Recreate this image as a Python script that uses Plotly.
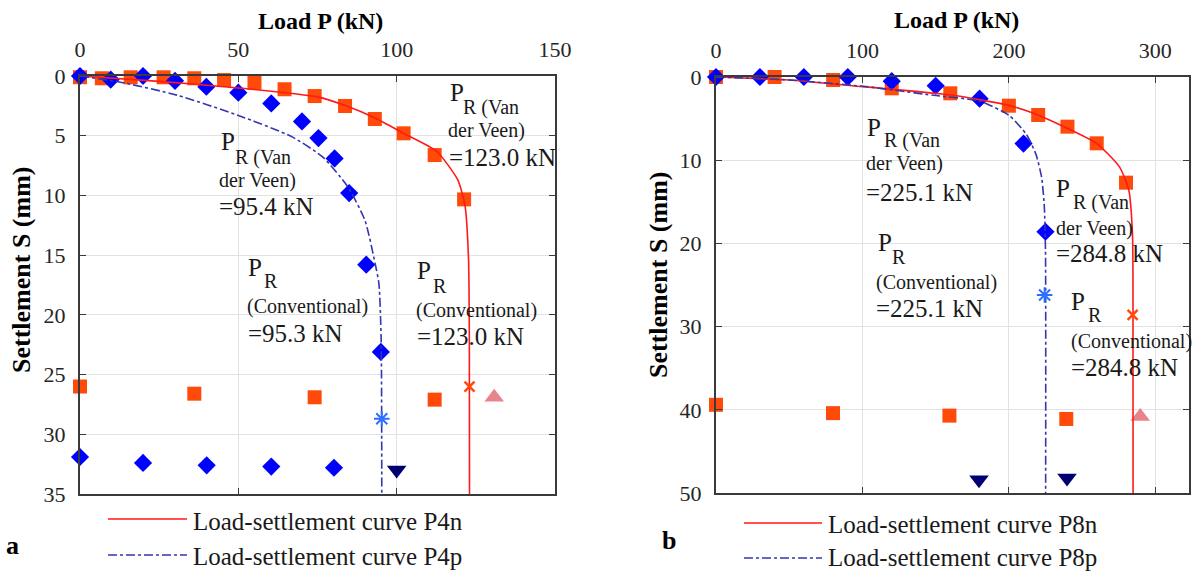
import plotly.graph_objects as go

W, H = 1192, 573
SERIF = "Liberation Serif, Times New Roman, Times, DejaVu Serif, serif"

# ---------------- Panel a data ----------------
a_sq_P = [0, 6.9, 16.0, 26.4, 36.1, 45.5, 55.1, 64.6, 74.1, 83.7, 93.1, 102.2, 112.0, 121.3]
a_sq_S = [0.1, 0.19, 0.11, 0.11, 0.19, 0.34, 0.56, 1.11, 1.68, 2.51, 3.6, 4.8, 6.62, 10.33]
a_di_P = [0, 9.7, 19.9, 30.0, 39.9, 50.0, 60.4, 70.1, 75.3, 80.4, 85.0, 90.4, 95.0]
a_di_S = [0, 0.3, 0.0, 0.4, 0.9, 1.4, 2.3, 3.8, 5.2, 6.9, 9.8, 15.8, 23.1]
a_n_P = [0, 25, 50, 75, 84, 93, 102.2, 112.6, 119.3, 121.6, 122.7, 122.95, 123.0]
a_n_S = [0, 0.45, 1.0, 1.75, 2.5, 3.5, 4.8, 6.3, 8.7, 10.9, 15.4, 22, 35]
a_p_P = [0, 12.4, 30.6, 50, 67, 76.7, 84.6, 90, 93.2, 94.4, 95.1, 95.3]
a_p_S = [0, 0.5, 1.6, 3.3, 5.1, 6.8, 9.3, 12.1, 15.7, 17.4, 22, 35]
a_row_sq_P = [0, 36.1, 74.1, 112.0]
a_row_sq_S = [26.0, 26.6, 26.9, 27.1]
a_row_di_P = [0, 19.9, 40.0, 60.4, 80.2]
a_row_di_S = [31.9, 32.4, 32.6, 32.7, 32.8]
a_x_P, a_x_S = [123.0], [26.0]
a_ast_P, a_ast_S = [95.3], [28.7]
a_tu_P, a_tu_S = [130.8], [26.9]
a_td_P, a_td_S = [100.0], [33.0]
a_xticks = [0, 50, 100, 150]
a_yticks = [0, 5, 10, 15, 20, 25, 30, 35]

# ---------------- Panel b data ----------------
b_sq_P = [0, 40, 80, 120, 160, 200, 220, 240, 260, 280]
b_sq_S = [0, 0, 0.36, 1.36, 1.96, 3.45, 4.57, 5.97, 7.97, 12.7]
b_di_P = [0, 30, 60, 90, 120, 150, 180, 210, 225]
b_di_S = [0, 0, 0, 0, 0.5, 1.05, 2.6, 8.0, 18.6]
b_n_P = [0, 50, 100, 160.5, 199, 215, 239, 260, 275.5, 281.9, 284.4, 284.75, 284.8]
b_n_S = [0, 0.36, 1.16, 2.16, 3.37, 4.25, 6.1, 8.0, 10.8, 13.6, 18.8, 25, 50]
b_p_P = [0, 50, 102, 148.5, 180, 200, 212, 218.5, 222.4, 224.2, 225.0, 225.1]
b_p_S = [0, 0.36, 1.15, 2.2, 2.9, 4.6, 6.9, 9.3, 12.1, 15.6, 21, 50]
b_row_sq_P = [0, 79.9, 159.4, 239.2]
b_row_sq_S = [39.4, 40.4, 40.7, 41.1]
b_x_P, b_x_S = [284.5], [28.6]
b_ast_P, b_ast_S = [224.4], [26.2]
b_tu_P, b_tu_S = [289.7], [40.8]
b_td_P = [179.6, 239.7]
b_td_S = [48.4, 48.2]
b_xticks = [0, 100, 200, 300]
b_yticks = [0, 10, 20, 30, 40, 50]

SQ_C = "#ff4a0a"
DI_C = "#0000ff"
RED_LINE = "#ff1a1a"
BLUE_LINE = "#3535b0"
TU_C = "#e8848c"
TD_C = "#000070"
AST_C = "#2f6fff"


def X(px):
    return px / W


def Y(py):
    return 1 - py / H


fig = go.Figure()


def add_panel(xa, ya, sq_P, sq_S, di_P, di_S, n_P, n_S, p_P, p_S,
              row_sq_P, row_sq_S, row_di_P, row_di_S,
              x_P, x_S, ast_P, ast_S, tu_P, tu_S, td_P, td_S):
    mk = dict(xaxis=xa, yaxis=ya, mode="markers", showlegend=False, cliponaxis=False)
    fig.add_trace(go.Scatter(x=sq_P + row_sq_P, y=sq_S + row_sq_S,
                             marker=dict(symbol="square", size=14, color=SQ_C), **mk))
    fig.add_trace(go.Scatter(x=di_P + row_di_P, y=di_S + row_di_S,
                             marker=dict(symbol="diamond", size=14, color=DI_C), **mk))
    fig.add_trace(go.Scatter(x=tu_P, y=tu_S,
                             marker=dict(symbol="triangle-up", size=17, color=TU_C), **mk))
    fig.add_trace(go.Scatter(x=td_P, y=td_S,
                             marker=dict(symbol="triangle-down", size=17, color=TD_C), **mk))
    fig.add_trace(go.Scatter(x=n_P, y=n_S, xaxis=xa, yaxis=ya, mode="lines", showlegend=False,
                             line=dict(color=RED_LINE, width=1.6, shape="spline", smoothing=0.6)))
    fig.add_trace(go.Scatter(x=p_P, y=p_S, xaxis=xa, yaxis=ya, mode="lines", showlegend=False,
                             line=dict(color=BLUE_LINE, width=1.6, dash="dashdot",
                                       shape="spline", smoothing=0.6)))
    fig.add_trace(go.Scatter(x=ast_P, y=ast_S,
                             marker=dict(symbol="asterisk-open", size=13, color=AST_C,
                                         line=dict(color=AST_C, width=2)), **mk))
    fig.add_trace(go.Scatter(x=x_P, y=x_S,
                             marker=dict(symbol="x-thin-open", size=10, color=SQ_C,
                                         line=dict(color=SQ_C, width=2.5)), **mk))


add_panel("x", "y", a_sq_P, a_sq_S, a_di_P, a_di_S, a_n_P, a_n_S, a_p_P, a_p_S,
          a_row_sq_P, a_row_sq_S, a_row_di_P, a_row_di_S,
          a_x_P, a_x_S, a_ast_P, a_ast_S, a_tu_P, a_tu_S, a_td_P, a_td_S)
add_panel("x2", "y2", b_sq_P, b_sq_S, b_di_P, b_di_S, b_n_P, b_n_S, b_p_P, b_p_S,
          b_row_sq_P, b_row_sq_S, [], [],
          b_x_P, b_x_S, b_ast_P, b_ast_S, b_tu_P, b_tu_S, b_td_P, b_td_S)

tickfont = dict(family=SERIF, size=22, color="#262626")
common = dict(showgrid=True, gridcolor="#e2e2e2", gridwidth=1, showline=True, mirror="ticks",
              linecolor="#3a3a3a", linewidth=2, ticks="inside", ticklen=6, tickcolor="#3a3a3a",
              tickfont=tickfont, zeroline=False, ticklabelstandoff=8, automargin=False)

fig.update_layout(
    width=W, height=H, autosize=False,
    margin=dict(l=0, r=0, t=0, b=0, autoexpand=False),
    paper_bgcolor="white", plot_bgcolor="white",
    font=dict(family=SERIF),
    xaxis=dict(domain=[X(80), X(555)], range=[0, 150], side="top", anchor="y",
               tickvals=a_xticks, **common),
    yaxis=dict(domain=[Y(494), Y(76)], range=[35, 0], anchor="x",
               tickvals=a_yticks, **common),
    xaxis2=dict(domain=[X(716), X(1189)], range=[0, 323], side="top", anchor="y2",
                tickvals=b_xticks, **common),
    yaxis2=dict(domain=[Y(493), Y(77)], range=[50, 0], anchor="x2",
                tickvals=b_yticks, **common),
)

ann = []


def txt(s, x, y, size, bold=False, angle=0, anchor="left", color="#1a1a1a"):
    ann.append(dict(text=("<b>%s</b>" % s) if bold else s, x=X(x), y=Y(y),
                    xref="paper", yref="paper", xanchor=anchor, yanchor="middle",
                    showarrow=False, textangle=angle,
                    font=dict(family=SERIF, size=size, color=color)))


# axis titles
txt("Load P (kN)", 320, 21, 24, bold=True, anchor="center", color="#000")
txt("Load P (kN)", 956, 20, 24, bold=True, anchor="center", color="#000")
txt("Settlement S (mm)", 22, 270, 26, bold=True, angle=-90, anchor="center", color="#000")
txt("Settlement S (mm)", 658, 275, 26, bold=True, angle=-90, anchor="center", color="#000")

MAIN, SUB = 25, 20
labels = [
    # panel a, Van der Veen 123.0
    ("P", 448, 92, MAIN), ("R (Van", 461, 107, SUB), ("der Veen)", 446, 130, SUB),
    ("=123.0 kN", 447, 157, MAIN),
    # panel a, Van der Veen 95.4
    ("P", 219, 142, MAIN), ("R (Van", 233, 157, SUB), ("der Veen)", 217, 180, SUB),
    ("=95.4 kN", 217, 206, MAIN),
    # panel a, Conventional 95.3
    ("P", 246, 267, MAIN), ("R", 262, 281, SUB), ("(Conventional)", 245, 306, SUB),
    ("=95.3 kN", 246, 333, MAIN),
    # panel a, Conventional 123.0
    ("P", 415, 271, MAIN), ("R", 431, 286, SUB), ("(Conventional)", 414, 310, SUB),
    ("=123.0 kN", 415, 336, MAIN),
    # panel b, Van der Veen 225.1
    ("P", 865, 127, MAIN), ("R (Van", 882, 140, SUB), ("der Veen)", 864, 164, SUB),
    ("=225.1 kN", 864, 192, MAIN),
    # panel b, Van der Veen 284.8
    ("P", 1054, 189, MAIN), ("R (Van", 1071, 203, SUB), ("der Veen)", 1054, 228, SUB),
    ("=284.8 kN", 1054, 253, MAIN),
    # panel b, Conventional 225.1
    ("P", 876, 243, MAIN), ("R", 890, 257, SUB), ("(Conventional)", 874, 282, SUB),
    ("=225.1 kN", 874, 308, MAIN),
    # panel b, Conventional 284.8
    ("P", 1069, 301, MAIN), ("R", 1086, 315, SUB), ("(Conventional)", 1069, 341, SUB),
    ("=284.8 kN", 1069, 367, MAIN),
]
for s, x, y, size in labels:
    txt(s, x, y, size)

# legends below plots
LEG = 25
txt("Load-settlement curve P4n", 191, 521, LEG)
txt("Load-settlement curve P4p", 191, 556, LEG)
txt("Load-settlement curve P8n", 826, 524, LEG)
txt("Load-settlement curve P8p", 826, 557, LEG)
txt("a", 12, 545, 26, bold=True, anchor="center", color="#000")
txt("b", 669, 540, 26, bold=True, anchor="center", color="#000")

shapes = []
for (x0, x1, y, col, dash) in [(108, 187, 519, RED_LINE, "solid"), (108, 187, 555, BLUE_LINE, "dashdot"),
                               (744, 822, 523, RED_LINE, "solid"), (744, 822, 558, BLUE_LINE, "dashdot")]:
    shapes.append(dict(type="line", xref="paper", yref="paper", x0=X(x0), x1=X(x1), y0=Y(y), y1=Y(y),
                       line=dict(color=col, width=1.6, dash=dash)))

fig.update_layout(annotations=ann, shapes=shapes)
fig.write_html("out.html", config={"displayModeBar": False},
               post_script="document.body.style.margin='0px';document.body.style.overflow='hidden';")
